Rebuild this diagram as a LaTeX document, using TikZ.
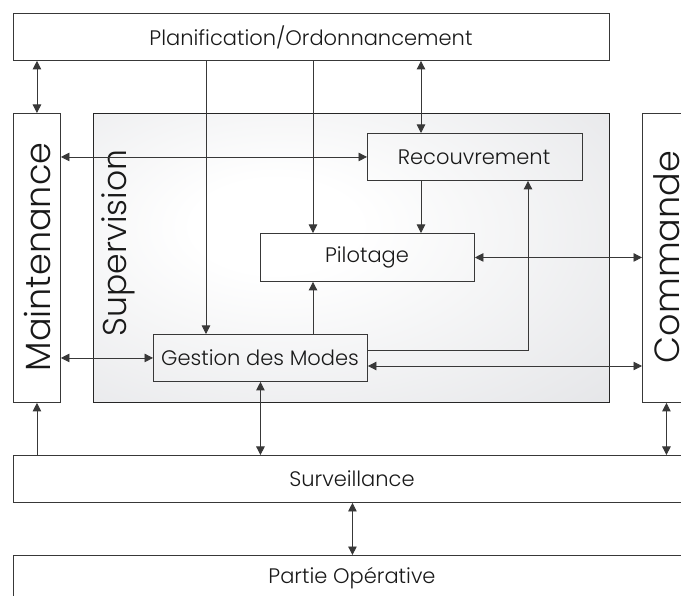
\documentclass[tikz,border=0pt]{standalone}
\usepackage{fontspec}
\setmainfont{Poppins}[UprightFont = * Light]
\usetikzlibrary{arrows.meta,calc}
\definecolor{edge}{rgb}{0.22,0.22,0.22}
\definecolor{supgray}{RGB}{224,225,228}
\pgfdeclareradialshading{supshade}{\pgfpoint{-8bp}{6bp}}{%
  color(0bp)=(white); color(8bp)=(white); color(48bp)=(supgray); color(100bp)=(supgray)}
\tikzset{
  box/.style={draw=edge, line width=0.9pt, inner sep=0pt, anchor=north west},
  lbl/.style={font=\fontsize{21}{21}\selectfont, text=black!90},
  big/.style={font=\fontsize{35}{35}\selectfont, text=black!90, rotate=90},
  link/.style={draw=edge, line width=0.8pt},
  tip/.style={-{Triangle[length=8.5pt,width=8.5pt]}},
  twotips/.style={{Triangle[length=8.5pt,width=8.5pt]}-{Triangle[length=8.5pt,width=8.5pt]}},
}
\begin{document}
\begin{tikzpicture}[x=1pt,y=-1pt]
\useasboundingbox (0,0) rectangle (681,596);
\clip (0,0) rectangle (681,596);

% supervision area with its radial shading
\node[box, draw=black!85, minimum width=516pt, minimum height=289pt, shading=supshade]
  (sup) at (93,113) {};
\node[big, font=\fontsize{33}{33}\selectfont] (suplbl) at (118,243) {Supervision};

% outer blocks
\node[box, minimum width=596pt, minimum height=47pt] (plan) at (13,13) {};
\node[lbl] (planlbl) at (311,37) {Planification/Ordonnancement};
\node[box, minimum width=47pt, minimum height=289pt] (maint) at (13,113) {};
\node[big] (maintlbl) at (37,257) {Maintenance};
\node[box, minimum width=48pt, minimum height=289pt] (cmd) at (642,113) {};
\node[big] (cmdlbl) at (667,257) {Commande};
\node[box, minimum width=678pt, minimum height=47pt] (surv) at (13,455) {};
\node[lbl] (survlbl) at (352,479) {Surveillance};
\node[box, minimum width=678pt, minimum height=60pt] (po) at (13,555) {};
\node[lbl] (polbl) at (352,578) {Partie Opérative};

% blocks inside the supervision
\node[box, minimum width=215pt, minimum height=47pt] (rec) at (367,133) {};
\node[lbl] (reclbl) at (474,157) {Recouvrement};
\node[box, minimum width=214pt, minimum height=48pt] (pil) at (260,233) {};
\node[lbl] (pillbl) at (367,257) {Pilotage};
\node[box, minimum width=214pt, minimum height=47pt] (gm) at (153,334) {};
\node[lbl] (gmlbl) at (260,358) {Gestion des Modes};

% vertical guide positions
\coordinate (xa) at (206,0);
\coordinate (xb) at (313,0);
\coordinate (xc) at (421,0);
\coordinate (xd) at (528,0);
\coordinate (ya) at (0,350);
\coordinate (yb) at (0,366);

% connectors
\draw[link, twotips] (plan.south -| maint.north) -- (maint.north);
\draw[link, tip] (plan.south -| xa) -- (gm.north -| xa);
\draw[link, tip] (plan.south -| xb) -- (pil.north -| xb);
\draw[link, twotips] (plan.south -| xc) -- (rec.north -| xc);
\draw[link, twotips] (maint.east |- rec.west) -- (rec.west);
\draw[link, tip] (rec.south -| xc) -- (pil.north -| xc);
\draw[link, twotips] (pil.east) -- (cmd.west |- pil.east);
\draw[link, tip] (gm.north -| xb) -- (pil.south -| xb);
\draw[link, tip] (gm.east |- ya) -- (xd |- ya) -- (rec.south -| xd);
\draw[link, twotips] (maint.east |- gm.west) -- (gm.west);
\draw[link, twotips] (gm.east |- yb) -- (cmd.west |- yb);
\draw[link, twotips] (gm.south) -- (surv.north -| gm.south);
\draw[link, tip] (surv.north -| maint.south) -- (maint.south);
\draw[link, twotips] (cmd.south) -- (surv.north -| cmd.south);
\draw[link, twotips] (surv.south) -- (po.north);
\end{tikzpicture}
\end{document}
